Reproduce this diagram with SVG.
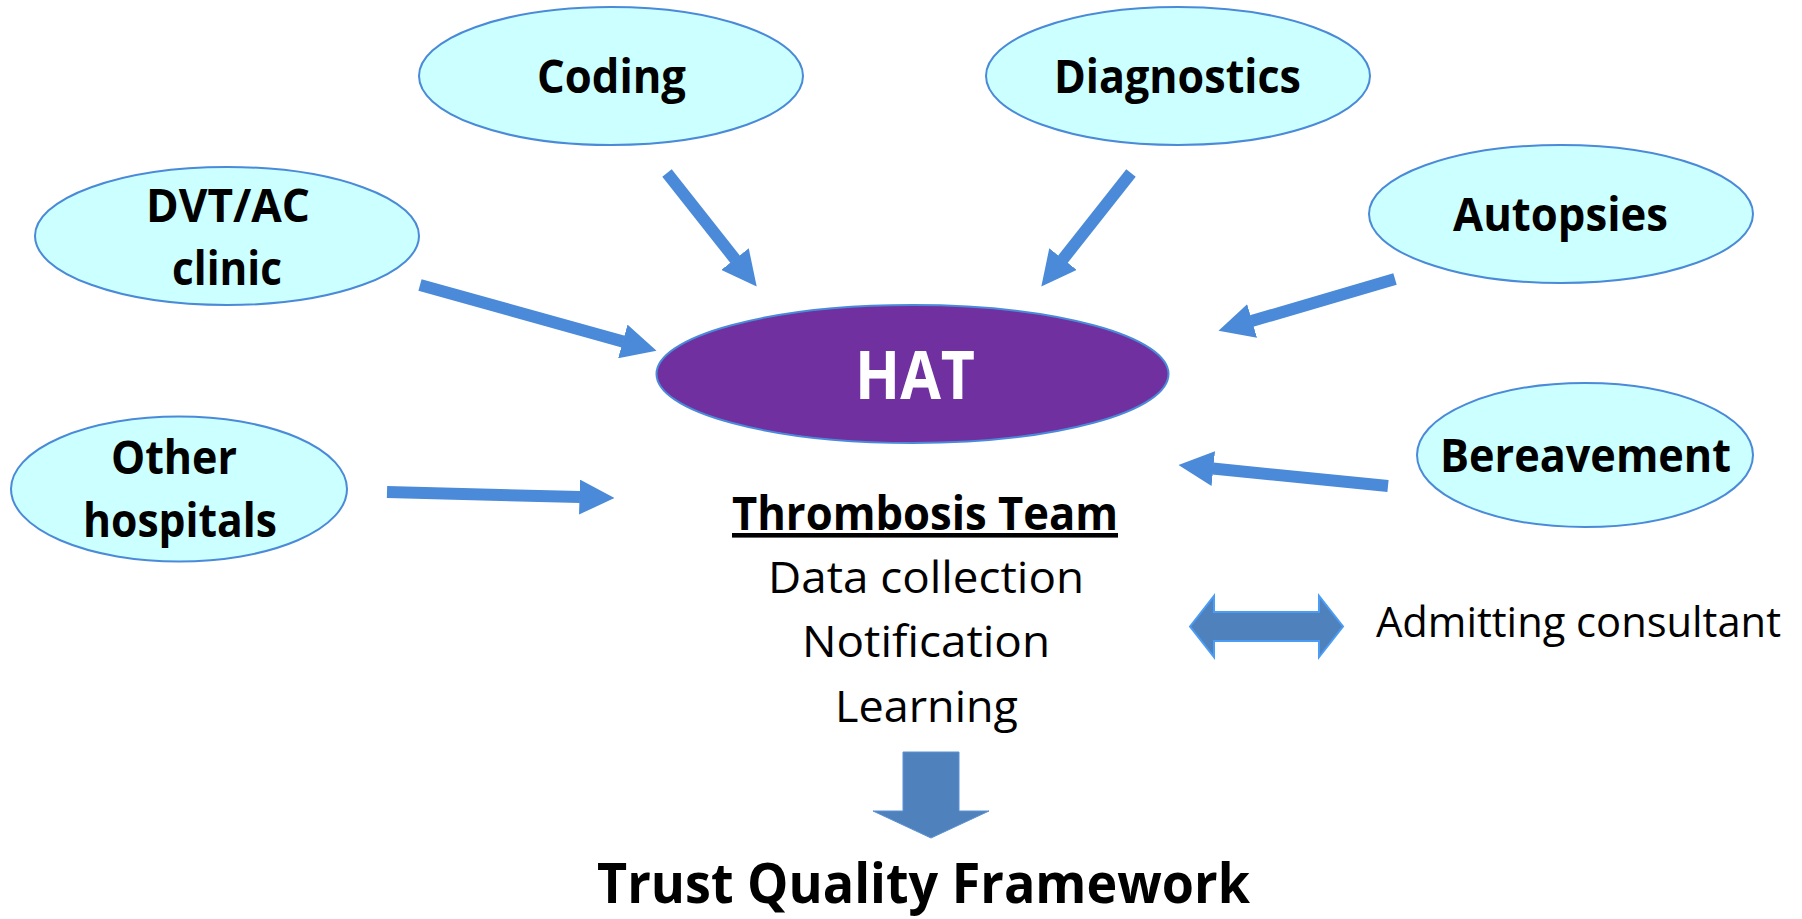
<svg xmlns="http://www.w3.org/2000/svg" width="1802" height="919" viewBox="0 0 1802 919">
<defs>
<marker id="ah" viewBox="0 0 35 35" markerWidth="35" markerHeight="35" markerUnits="userSpaceOnUse" refX="0.5" refY="17.5" orient="auto">
<path d="M0,0 L35,17.5 L0,35 z" fill="#4A8AD8"/>
</marker>
<style>
.src{fill:#CCFFFF;stroke:#4A8AD8;stroke-width:2}
.hat{fill:#7030A0;stroke:#4A8AD8;stroke-width:2}
.lbl{font-family:"Open Sans","Liberation Sans",sans-serif;font-weight:bold;font-size:46px;fill:#000;text-anchor:middle}
.reg{font-family:"Open Sans","Liberation Sans",sans-serif;font-size:44px;fill:#000;text-anchor:middle}
.conn{stroke:#4A8AD8;stroke-width:12;fill:none;marker-end:url(#ah)}
.block{fill:#4F81BD}
</style>
</defs>
<rect width="1802" height="919" fill="#FFFFFF"/>
<g id="connectors">
<line class="conn" x1="667" y1="173" x2="735.3" y2="259.5"/>
<line class="conn" x1="1131" y1="173" x2="1062.7" y2="259.5"/>
<line class="conn" x1="420" y1="285" x2="623.3" y2="341.6"/>
<line class="conn" x1="1395" y1="279" x2="1251.6" y2="321.1"/>
<line class="conn" x1="387" y1="492" x2="580" y2="497.1"/>
<line class="conn" x1="1388" y1="486" x2="1212.8" y2="468.5"/>
<polygon id="link-admitting" class="block" stroke="#4A9CF5" stroke-width="2" points="1190,626.5 1214,596 1214,612 1319,612 1319,596 1343,626.5 1319,657 1319,641 1214,641 1214,657"/>
<polygon id="link-framework" class="block" stroke="#5B93D3" stroke-width="1" points="903,752 959,752 959,811 989,811 931,838 873,811 903,811"/>
</g>
<g id="node-coding">
<ellipse class="src" cx="611" cy="76" rx="192" ry="69"/>
<text class="lbl" x="611.5" y="93" textLength="149" lengthAdjust="spacingAndGlyphs">Coding</text>
</g>
<g id="node-diagnostics">
<ellipse class="src" cx="1178" cy="76" rx="192" ry="69"/>
<text class="lbl" x="1177.5" y="93" textLength="247" lengthAdjust="spacingAndGlyphs">Diagnostics</text>
</g>
<g id="node-dvt">
<ellipse class="src" cx="227" cy="236" rx="192" ry="69"/>
<text class="lbl" x="228" y="222" textLength="164" lengthAdjust="spacingAndGlyphs">DVT/AC</text>
<text class="lbl" x="227" y="285" textLength="110" lengthAdjust="spacingAndGlyphs">clinic</text>
</g>
<g id="node-autopsies">
<ellipse class="src" cx="1561" cy="214" rx="192" ry="69"/>
<text class="lbl" x="1560.5" y="231" textLength="215" lengthAdjust="spacingAndGlyphs">Autopsies</text>
</g>
<g id="node-other-hospitals">
<ellipse class="src" cx="179" cy="489" rx="168" ry="72.5"/>
<text class="lbl" x="174" y="474" textLength="126" lengthAdjust="spacingAndGlyphs">Other</text>
<text class="lbl" x="180" y="537" textLength="194" lengthAdjust="spacingAndGlyphs">hospitals</text>
</g>
<g id="node-bereavement">
<ellipse class="src" cx="1585" cy="455" rx="168" ry="72"/>
<text class="lbl" x="1585.5" y="472" textLength="291" lengthAdjust="spacingAndGlyphs">Bereavement</text>
</g>
<g id="node-hat">
<ellipse class="hat" cx="912.5" cy="374" rx="256" ry="69"/>
<text class="lbl" x="915" y="399" style="font-size:66px;fill:#FFFFFF" textLength="120" lengthAdjust="spacingAndGlyphs">HAT</text>
</g>
<g id="node-thrombosis-team">
<text class="lbl" x="925" y="530" textLength="386" lengthAdjust="spacingAndGlyphs" text-decoration="underline">Thrombosis Team</text>
<text class="reg" x="926" y="593" textLength="316" lengthAdjust="spacingAndGlyphs">Data collection</text>
<text class="reg" x="926" y="657" textLength="248" lengthAdjust="spacingAndGlyphs">Notification</text>
<text class="reg" x="926.5" y="722" textLength="183" lengthAdjust="spacingAndGlyphs">Learning</text>
</g>
<g id="node-admitting-consultant">
<text class="reg" x="1578.5" y="637" style="font-size:42px" textLength="405" lengthAdjust="spacingAndGlyphs">Admitting consultant</text>
</g>
<g id="node-trust-quality-framework">
<text class="lbl" x="923.5" y="903" style="font-size:55px" textLength="653" lengthAdjust="spacingAndGlyphs">Trust Quality Framework</text>
</g>
</svg>
